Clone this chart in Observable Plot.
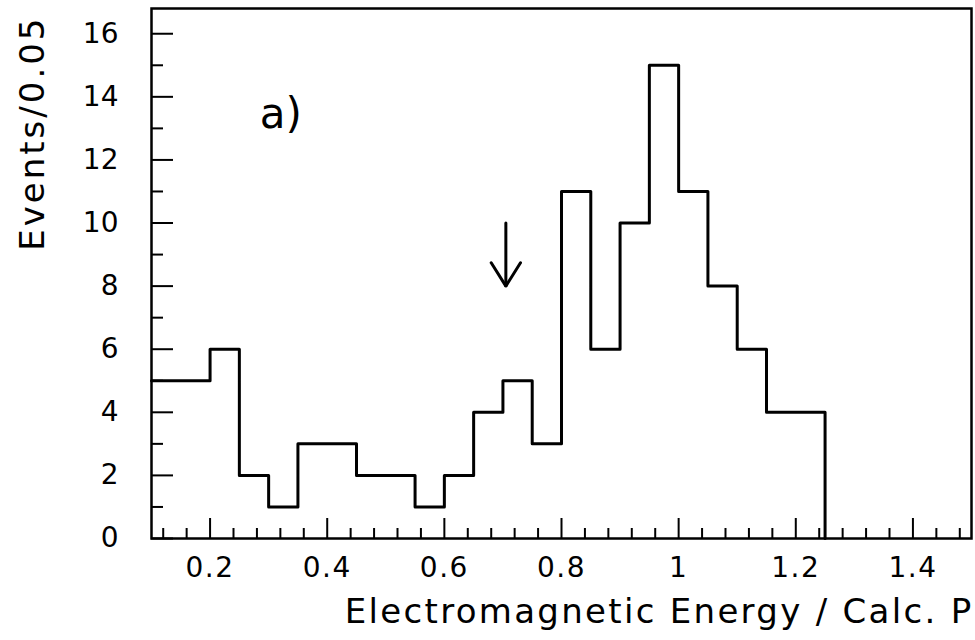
<!DOCTYPE html>
<html>
<head>
<meta charset="utf-8">
<script src="https://cdn.jsdelivr.net/npm/d3@7"></script>
<script src="https://cdn.jsdelivr.net/npm/@observablehq/plot@0.6"></script>
<style>
  html, body { margin: 0; padding: 0; background: #fff; }
</style>
</head>
<body>
<div id="chart"></div>
<script>
// Histogram bins (lower edges, width 0.05) and counts
const binStart = [0.10, 0.15, 0.20, 0.25, 0.30, 0.35, 0.40, 0.45, 0.50, 0.55, 0.60, 0.65,
                  0.70, 0.75, 0.80, 0.85, 0.90, 0.95, 1.00, 1.05, 1.10, 1.15, 1.20];
const counts   = [5, 5, 6, 2, 1, 3, 3, 2, 2, 1, 2, 4,
                  5, 3, 11, 6, 10, 15, 11, 8, 6, 4, 4];
const binEnd = 1.25;

// Axis ticks
const xMajor = [0.2, 0.4, 0.6, 0.8, 1.0, 1.2, 1.4];
const xTickLabels = ["0.2", "0.4", "0.6", "0.8", "1", "1.2", "1.4"];
const xMinor = [0.12, 0.16, 0.24, 0.28, 0.32, 0.36, 0.44, 0.48, 0.52, 0.56, 0.64, 0.68,
                0.72, 0.76, 0.84, 0.88, 0.92, 0.96, 1.04, 1.08, 1.12, 1.16, 1.24, 1.28,
                1.32, 1.36, 1.44, 1.48];
const yMajor = [0, 2, 4, 6, 8, 10, 12, 14, 16];
const yTickLabels = ["0", "2", "4", "6", "8", "10", "12", "14", "16"];
const yMinor = [1, 3, 5, 7, 9, 11, 13, 15];

// Annotations
const arrowShaftX = [0.705, 0.705];
const arrowShaftY = [10.0, 8.0];
const arrowHeadX = [0.68, 0.705, 0.73];
const arrowHeadY = [8.74, 8.0, 8.74];
const panelLabel = [{x: 0.285, y: 13.0, text: "a)"}];
const xLabel = "Electromagnetic Energy / Calc. P";
const yLabel = "Events/0.05";

const W = 975, H = 640;
const mL = 151, mR = 4, mT = 8, mB = 102;
const FW = W - mL - mR, FH = H - mT - mB;

const steps = binStart.map((x, i) => ({x, y: counts[i]})).concat([{x: binEnd, y: 0}]);
const shaft = arrowShaftX.map((x, i) => ({x, y: arrowShaftY[i]}));
const head = arrowHeadX.map((x, i) => ({x, y: arrowHeadY[i]}));
const xTicks = xMajor.map((v, i) => ({v, label: xTickLabels[i]}));
const yTicks = yMajor.map((v, i) => ({v, label: yTickLabels[i]}));

const font = "DejaVu Sans";

const svg = Plot.plot({
  width: W,
  height: H,
  marginLeft: mL,
  marginRight: mR,
  marginTop: mT,
  marginBottom: mB,
  style: {fontFamily: font, fontSize: "27px", background: "#fff", color: "#000", overflow: "visible"},
  x: {domain: [0.1, 1.5], axis: null},
  y: {domain: [0, 16.8], axis: null},
  marks: [
    Plot.ruleX(xMajor, {insetTop: FH - 20, stroke: "#000", strokeWidth: 2}),
    Plot.ruleX(xMinor, {insetTop: FH - 10, stroke: "#000", strokeWidth: 2}),
    Plot.ruleY(yMajor, {insetRight: FW - 22, stroke: "#000", strokeWidth: 2}),
    Plot.ruleY(yMinor, {insetRight: FW - 12, stroke: "#000", strokeWidth: 2}),
    Plot.frame({stroke: "#000", strokeWidth: 2.5}),
    Plot.text(xTicks, {x: "v", text: "label", frameAnchor: "bottom", lineAnchor: "top",
      dy: 19, fontSize: 28, fill: "#000"}),
    Plot.text(yTicks, {y: "v", text: "label", frameAnchor: "left", textAnchor: "end",
      dx: -33, fontSize: 28, fill: "#000"}),
    Plot.line(steps, {x: "x", y: "y", curve: "step-after", stroke: "#000", strokeWidth: 3}),
    Plot.line(shaft, {x: "x", y: "y", stroke: "#000", strokeWidth: 3}),
    Plot.line(head, {x: "x", y: "y", stroke: "#000", strokeWidth: 3, strokeLinejoin: "miter"}),
    Plot.text(panelLabel, {x: "x", y: "y", text: "text", textAnchor: "start", lineAnchor: "bottom",
      fontSize: 42, fill: "#000"}),
    Plot.text([xLabel], {text: d => d, frameAnchor: "bottom-right", textAnchor: "end",
      lineAnchor: "bottom", dx: 2, dy: 84, fontSize: 34, fill: "#000"}),
    Plot.text([yLabel], {text: d => d, frameAnchor: "top-left", rotate: -90, textAnchor: "end",
      lineAnchor: "bottom", dx: -108, dy: 7, fontSize: 34, fill: "#000"})
  ]
});

d3.select(svg).selectAll("text").each(function() {
  const t = this.textContent;
  if (t === xLabel) d3.select(this).style("letter-spacing", "2.3px");
  else if (t === yLabel) d3.select(this).style("letter-spacing", "3px");
  else if (xTickLabels.includes(t)) d3.select(this).style("letter-spacing", "1.5px");
});

document.getElementById("chart").appendChild(svg);
</script>
</body>
</html>
